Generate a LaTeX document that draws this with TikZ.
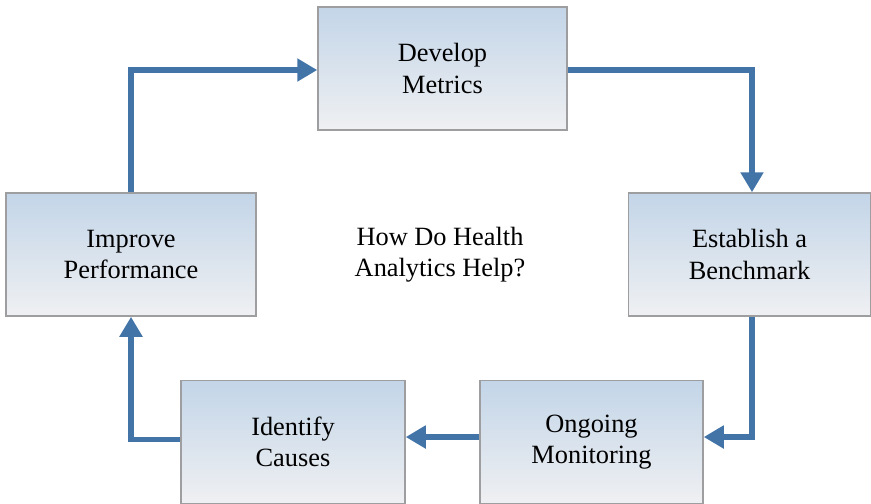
\documentclass[tikz,border=0pt]{standalone}
\usepackage{fontspec}
\setmainfont{Liberation Serif}
\usetikzlibrary{arrows.meta}
\definecolor{cTop}   {RGB}{195,213,232}
\definecolor{cBot}   {RGB}{239,240,242}
\definecolor{cEdge}  {RGB}{158,158,160}
\definecolor{cArrow} {RGB}{66,116,168}

\begin{document}
\begin{tikzpicture}[font=\fontsize{15}{17.8}\selectfont]

%% ── shared styles ─────────────────────────────────────────────────────────
\tikzset{
  blk/.style={
    rectangle, minimum height=2.46cm, minimum width=#1,
    align=center, inner sep=2pt,
    draw=cEdge, line width=0.85pt,
    top color=cTop, bottom color=cBot
  },
  arr/.style={-{Triangle[length=0.40cm, width=0.44cm]},
    line width=2.9pt, cArrow},
}

\useasboundingbox (0,0) rectangle (17.42,-10.06);

%% ── stages of the cycle ───────────────────────────────────────────────────
\node[blk=4.98cm] (metrics) at ( 8.85,-1.37) {Develop\\Metrics};
\node[blk=4.84cm] (bench)   at (14.99,-5.09) {Establish a\\Benchmark};
\node[blk=4.46cm] (monitor) at (11.83,-8.84) {Ongoing\\Monitoring};
\node[blk=4.48cm] (causes)  at ( 5.86,-8.84) {Identify\\Causes};
\node[blk=5.00cm] (improve) at ( 2.62,-5.09) {Improve\\Performance};

%% ── centre question ───────────────────────────────────────────────────────
\node[align=center] (question) at (8.80,-5.09) {How Do Health\\Analytics Help?};

%% ── cycle arrows ──────────────────────────────────────────────────────────
\draw[arr] (improve.north) |- ([yshift=-0.03cm]metrics.west);
\draw[arr] ([yshift=-0.03cm]metrics.east) -| ([xshift=0.05cm]bench.north);
\draw[arr] ([xshift=0.05cm]bench.south) |- ([yshift=0.10cm]monitor.east);
\draw[arr] ([yshift=0.10cm]monitor.west) -- ([yshift=0.10cm]causes.east);
\draw[arr] ([yshift=0.05cm]causes.west) -| (improve.south);

\end{tikzpicture}
\end{document}
